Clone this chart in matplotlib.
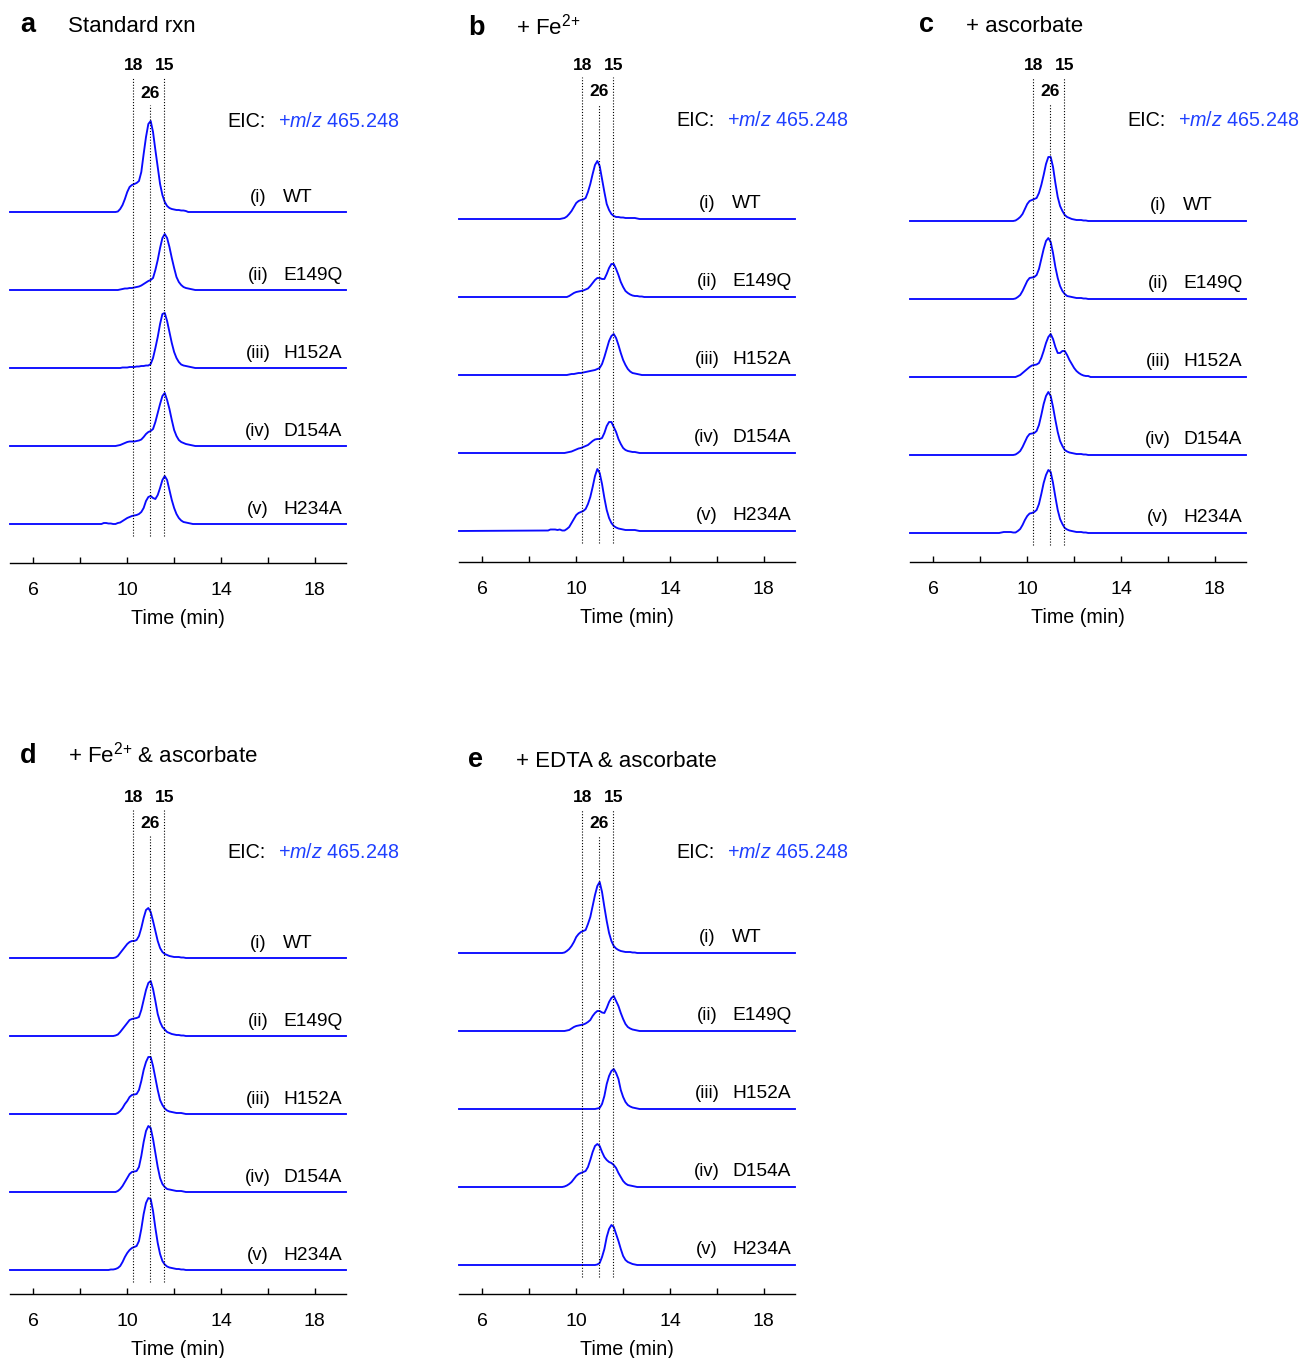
"""EIC traces (+m/z 465.248) for WT and variants under five reaction conditions."""

import matplotlib

matplotlib.use("Agg")
import matplotlib.pyplot as plt

plt.rcParams["font.family"] = ["Liberation Sans", "DejaVu Sans"]
plt.rcParams["mathtext.fontset"] = "custom"
plt.rcParams["mathtext.rm"] = "Liberation Sans"
plt.rcParams["mathtext.it"] = "Liberation Sans:italic"
plt.rcParams["mathtext.bf"] = "Liberation Sans:bold"

# ====== Data ======
RUN_START, RUN_END = 5.0, 19.33  # acquisition window (min), flat baseline outside the grid
time_min = [8.8, 8.9, 9.0, 9.1, 9.2, 9.3, 9.4, 9.5,
            9.6, 9.7, 9.8, 9.9, 10.0, 10.1, 10.2, 10.3, 10.4, 10.5,
            10.6, 10.7, 10.8, 10.9, 11.0, 11.1, 11.2, 11.3, 11.4, 11.5,
            11.6, 11.7, 11.8, 11.9, 12.0, 12.1, 12.2, 12.3, 12.4, 12.5,
            12.6, 12.7, 12.8, 12.9]

variants = ["WT", "E149Q", "H152A", "D154A", "H234A"]
roman = ["(i)", "(ii)", "(iii)", "(iv)", "(v)"]

std_times = [10.25, 10.97, 11.58]
std_labels = ["18", "26", "15"]

panel_letters = ["a", "b", "c", "d", "e"]
panel_titles = ["Standard rxn", "+ Fe$^{\\text{2+}}$", "+ ascorbate",
                "+ Fe$^{\\text{2+}}$ & ascorbate", "+ EDTA & ascorbate"]

# intensities (arbitrary units) on time_min, one row per variant
std_rxn = [
    [0, 0, 0, 0, 0, 0, 0, 0, 0.5, 3, 7, 13, 20, 25, 27, 28, 29, 31,
     40, 58, 75, 88, 91, 80, 62, 45, 28, 17, 10, 6, 4, 3, 2.5, 2, 2, 1.5, 1.5, 1, 0, 0, 0, 0],
    [0, 0, 0, 0, 0, 0, 0, 0, 0, 0.5, 1, 1.5, 1.5, 2, 2, 2.5, 3, 3.5,
     4.5, 6, 7.5, 9, 10, 12, 20, 30, 42, 52, 56, 52, 43, 32, 22, 13, 8, 5, 3, 2, 1.5, 1, 0.5, 0],
    [0, 0, 0, 0, 0, 0, 0, 0, 0, 0, 0.5, 0.5, 0.5, 1, 1, 1, 1.5, 1.5,
     2, 2, 2.5, 2.5, 4, 10, 20, 31, 44, 54, 55, 47, 36, 25, 16, 10, 6, 3.5, 2.5, 2, 1.5, 1, 0.5, 0],
    [0, 0, 0, 0, 0, 0, 0, 0, 0.5, 1, 2, 3, 4, 4.5, 4.5, 4.5, 5, 5.5,
     6.5, 9, 12, 14, 15, 17, 24, 33, 42, 50, 53, 46, 37, 26, 16, 10, 6, 4, 3, 2, 1.5, 1, 0.5, 0],
    [0, 0, 1, 1, 0.5, 0.5, 0, 0, 1, 1.5, 3, 4.5, 6, 7, 8, 8.5, 9, 10,
     12, 16, 23, 27, 28, 26, 25, 29, 36, 44, 48, 44, 34, 24, 16, 10, 6, 3.5, 2, 1.5, 1, 0.5, 0, 0],
]
fe2 = [
    [0, 0, 0, 0, 0, 0, 0.5, 1, 2.5, 5, 8, 12, 16, 18, 19, 19.5, 21, 27,
     35, 45, 54, 58, 53, 40, 27, 15, 9, 5, 3, 2, 2, 1.5, 1.5, 1, 1, 1, 1, 1, 0.5, 0, 0, 0],
    [0, 0, 0, 0, 0, 0, 0, 0, 0, 1, 2.5, 4, 5, 5.5, 6, 6.5, 7.5, 8.5,
     11, 14, 17, 19, 19, 18, 18, 23, 29, 33, 33, 28, 22, 15, 10, 6, 4, 2.5, 1.5, 1, 1, 0.5, 0.5, 0],
    [0, 0, 0, 0, 0, 0, 0, 0, 0, 0.5, 1, 1, 1.5, 2, 2, 2.5, 3, 3.5,
     4, 4.5, 5, 6, 7, 11, 18, 26, 34, 39, 41, 37, 30, 22, 15, 10, 6, 3.5, 2, 1.5, 1, 0.5, 0, 0],
    [0, 0, 0, 0, 0, 0, 0, 0, 0.5, 1, 1.5, 2.5, 3.5, 4.5, 5, 6, 7, 8,
     10, 12, 13.5, 14, 14, 15, 20, 27, 31, 31, 26, 21, 14, 9, 5, 3, 2, 1.5, 1, 1, 0.5, 0, 0, 0],
    [0.5, 1.5, 1.5, 1.5, 1, 1.5, 0.5, 0.5, 2, 4, 8, 12, 16, 18, 19, 20, 22, 27,
     34, 44, 55, 62, 58, 47, 33, 21, 13, 8, 5, 3.5, 2.5, 2, 1.5, 1, 1, 1, 1, 1, 0.5, 0, 0, 0],
]
ascorbate = [
    [0, 0, 0, 0, 0, 0, 0, 0.5, 2, 4, 7, 12, 17, 20, 21, 22, 23, 28,
     36, 46, 57, 64, 64, 54, 38, 24, 15, 10, 6, 4, 3, 2, 1.5, 1, 1, 1, 0.5, 0.5, 0, 0, 0, 0],
    [0, 0, 0, 0, 0, 0, 0, 0.5, 2, 4, 8, 13, 18, 21, 21.5, 22, 24, 30,
     40, 50, 58, 61, 57, 46, 32, 21, 13, 8, 5, 3, 2.5, 2, 1.5, 1, 1, 1, 0.5, 0.5, 0, 0, 0, 0],
    [0, 0, 0, 0, 0, 0, 0, 0, 1, 2, 4, 6, 8, 10, 11.5, 12, 12.5, 14,
     19, 26, 34, 40, 43, 38, 30, 24, 24, 26, 26, 22, 17, 13, 9, 6, 4, 2.5, 1.5, 1, 1, 0, 0, 0],
    [0, 0, 0, 0, 0, 0, 0, 0.5, 2, 4, 8, 13, 18, 21, 21.5, 22, 24, 30,
     40, 51, 59, 63, 59, 48, 35, 23, 14, 9, 5, 3.5, 2.5, 2, 1.5, 1, 1, 1, 0.5, 0.5, 0, 0, 0, 0],
    [0, 0.5, 1, 1, 1, 1, 0.5, 0.5, 2, 4, 8, 13, 17, 19.5, 20, 21, 23, 29,
     39, 50, 58, 63, 61, 50, 36, 23, 14, 9, 5, 3.5, 2.5, 2, 1.5, 1, 1, 1, 0.5, 0.5, 0, 0, 0, 0],
]
fe2_ascorbate = [
    [0, 0, 0, 0, 0, 0, 0, 0.5, 2, 5, 8, 11, 14, 16, 17, 17, 18, 22,
     30, 40, 48, 50, 46, 37, 27, 17, 10, 6, 4, 3, 2, 1.5, 1, 1, 1, 0.5, 0.5, 0, 0, 0, 0, 0],
    [0, 0, 0, 0, 0, 0, 0, 0.5, 1.5, 4, 7, 10, 13, 16, 17, 17.5, 18, 19,
     26, 36, 46, 53, 55, 47, 35, 22, 14, 9, 6.5, 4, 3, 2, 1.5, 1, 1, 0.5, 0.5, 0, 0, 0, 0, 0],
    [0, 0, 0, 0, 0, 0, 0, 0, 1, 3, 6, 10, 13, 17, 19, 19.5, 20, 24,
     33, 44, 52, 57, 57, 48, 36, 24, 14, 9, 5.5, 3.5, 2.5, 2, 1.5, 1, 1, 1, 0.5, 0, 0, 0, 0, 0],
    [0, 0, 0, 0, 0, 0, 0, 0, 1, 3, 6, 10, 14, 18, 20, 20.5, 21, 25,
     36, 50, 61, 66, 64, 53, 39, 25, 14, 8, 5, 3, 2.5, 2, 1.5, 1, 1, 1, 0.5, 0, 0, 0, 0, 0],
    [0, 0, 0, 0, 0, 0.5, 0.5, 1, 2, 4, 8, 13, 17, 20, 22, 23, 24, 29,
     41, 56, 67, 72, 71, 59, 42, 27, 16, 9, 5.5, 3.5, 2.5, 2, 1.5, 1, 1, 0.5, 0.5, 0, 0, 0, 0, 0],
]
edta_ascorbate = [
    [0, 0, 0, 0, 0, 0, 0, 0.5, 2, 4, 7, 11, 16, 19, 21, 22, 23, 29,
     36, 47, 58, 67, 71, 61, 46, 32, 20, 12, 7, 4.5, 3, 2, 1.5, 1, 1, 1, 0.5, 0.5, 0, 0, 0, 0],
    [0, 0, 0, 0, 0, 0, 0, 0, 0.5, 1, 2.5, 4, 5, 5.5, 6, 6.5, 7.5, 9,
     11, 15, 18, 20, 20, 18.5, 18, 23, 29, 33, 35, 30, 25, 18, 12, 7, 4, 2.5, 1.5, 1, 0.5, 0, 0, 0],
    [0, 0, 0, 0, 0, 0, 0, 0, 0, 0, 0, 0, 0, 0, 0, 0, 0, 0,
     0, 0, 0, 0.5, 1, 5, 13, 25, 33, 38, 40, 36, 30, 19, 12, 7, 4, 2.5, 1.5, 1, 0.5, 0, 0, 0],
    [0, 0, 0, 0, 0, 0, 0, 0.5, 1.5, 3, 5, 8, 11, 13, 14, 15, 16, 20,
     27, 35, 41, 43, 41, 35, 30, 27, 25, 24, 22, 19, 14, 10, 6, 3.5, 2, 1.5, 1, 0.5, 0, 0, 0, 0],
    [0, 0, 0, 0, 0, 0, 0, 0, 0, 0, 0, 0, 0, 0, 0, 0, 0, 0,
     0, 0, 0, 0.5, 2, 8, 16, 28, 36, 40, 38, 31, 24, 16, 9, 5, 3, 2, 1, 0.5, 0, 0, 0, 0],
]
panels = [std_rxn, fe2, ascorbate, fe2_ascorbate, edta_ascorbate]

# ====== Layout (pixels) ======
FIG_W, FIG_H = 1302, 1358
PANEL_W, PANEL_H = 336, 503
panel_origin = [(10, 563), (459, 562), (910, 562), (10, 1294), (459, 1294)]  # left x, axis-line y
bottom_trace = [39, 31, 29, 24, 29]  # baseline of trace (v) above axis line
TRACE_STEP = 78
letter_pos = [(20, 32), (468, 35), (919, 32), (20, 763), (468, 767)]
title_pos = [(68, 32), (516, 35), (966, 32), (68, 763), (516, 767)]
MIN_PER_PX = (RUN_END - RUN_START) / PANEL_W

TRACE_COLOR = "#0a0aff"
EIC_BLUE = "#1f40ff"

fig = plt.figure(figsize=(FIG_W / 100, FIG_H / 100), dpi=100)

for k, traces in enumerate(panels):
    left, ybot = panel_origin[k]
    ax = fig.add_axes([left / FIG_W, (FIG_H - ybot) / FIG_H, PANEL_W / FIG_W, PANEL_H / FIG_H])
    ax.set_xlim(RUN_START, RUN_END)
    ax.set_ylim(0, PANEL_H)
    for side in ("left", "right", "top"):
        ax.spines[side].set_visible(False)
    ax.spines["bottom"].set_linewidth(1.0)
    ax.set_yticks([])
    ax.set_xticks([6, 10, 14, 18])
    ax.set_xticks([8, 12, 16], minor=True)
    ax.tick_params(axis="x", which="both", direction="in", length=4, width=1.0,
                   pad=14, labelsize=14)
    ax.set_xlabel("Time (min)", fontsize=14.2, labelpad=7)

    # chromatograms, (i) on top
    for i, trace in enumerate(traces):
        base = bottom_trace[k] + TRACE_STEP * (len(traces) - 1 - i)
        t = [RUN_START] + time_min + [RUN_END]
        y = [base] + [base + v for v in trace] + [base]
        ax.plot(t, y, color=TRACE_COLOR, lw=1.35, solid_joinstyle="round", clip_on=False)
        ax.text(RUN_START + 248 * MIN_PER_PX, base + 15, roman[i],
                ha="center", va="center", fontsize=13.3)
        ax.text(RUN_START + 273 * MIN_PER_PX, base + 15, variants[i],
                ha="left", va="center", fontsize=13.8)

    # standard retention times
    low = bottom_trace[k] - 12
    for st, lbl in zip(std_times, std_labels):
        top = 458 if lbl == "26" else 485
        ax.plot([st, st], [low, top], color="k", lw=0.8, ls=(0, (1, 1.6)))
        ax.text(st, top + 12, lbl, ha="center", va="center",
                fontsize=12.5, fontweight="bold")

    ax.text(RUN_START + 217 * MIN_PER_PX, 436, "EIC:", ha="left", va="baseline", fontsize=14.2)
    ax.text(RUN_START + 268 * MIN_PER_PX, 436, "+$\\mathit{m/z}$ 465.248", ha="left",
            va="baseline", fontsize=14.2, color=EIC_BLUE)

    lx, ly = letter_pos[k]
    fig.text(lx / FIG_W, 1 - ly / FIG_H, panel_letters[k], ha="left", va="baseline",
             fontsize=19.5, fontweight="bold")
    tx, ty = title_pos[k]
    fig.text(tx / FIG_W, 1 - ty / FIG_H, panel_titles[k], ha="left", va="baseline",
             fontsize=16)

fig.savefig("out.png", dpi=100)
